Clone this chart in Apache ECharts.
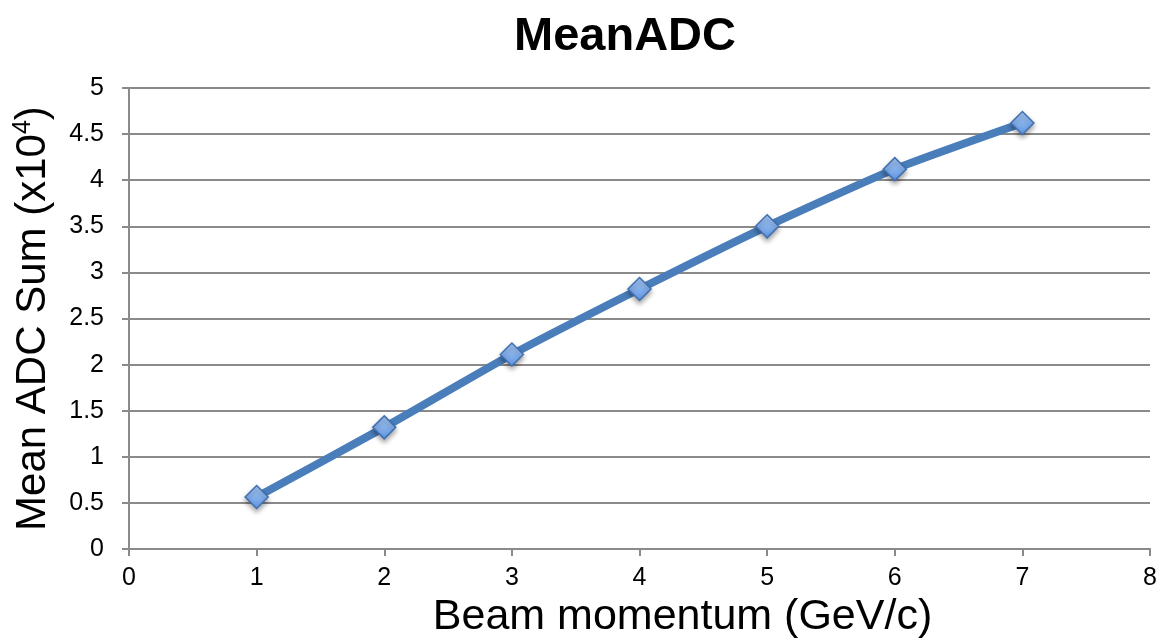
<!DOCTYPE html>
<html>
<head>
<meta charset="utf-8">
<script src="https://cdn.jsdelivr.net/npm/echarts@6/dist/echarts.min.js"></script>
<style>
  html, body { margin: 0; padding: 0; background: #fff; }
  #chart { width: 1160px; height: 644px; }
</style>
</head>
<body>
<div id="chart"></div>
<script>
const chartTitle = "MeanADC";
const xAxisTitle = "Beam momentum (GeV/c)";
const yAxisTitle = "Mean ADC Sum (x10{sup|4})";
const momentum = [1, 2, 3, 4, 5, 6, 7];
const meanAdcSum = [0.565, 1.32, 2.11, 2.82, 3.50, 4.12, 4.62];

const points = momentum.map((x, i) => [x, meanAdcSum[i]]);
const gray = '#8a8a8a';
const font = 'Liberation Sans, Arial, sans-serif';

const chart = echarts.init(document.getElementById('chart'), null, { renderer: 'canvas' });
chart.setOption({
  animation: false,
  backgroundColor: '#ffffff',
  title: {
    text: chartTitle,
    left: 620, top: 9,
    textAlign: 'center',
    textStyle: { fontFamily: font, fontWeight: 'bold', fontSize: 47, color: '#000' }
  },
  grid: { left: 129, right: 9, top: 88, bottom: 93, containLabel: false },
  xAxis: {
    type: 'value', min: 0, max: 8, interval: 1,
    name: xAxisTitle, nameLocation: 'middle', nameGap: 44,
    nameTextStyle: { fontFamily: font, fontSize: 43, color: '#000', padding: [0, 0, 0, 86] },
    axisLine: { show: true, onZero: false, lineStyle: { color: gray, width: 2 } },
    axisTick: { show: true, inside: false, length: 7, lineStyle: { color: gray, width: 2 } },
    axisLabel: { margin: 17, fontFamily: font, fontSize: 25, color: '#000' },
    splitLine: { show: false }
  },
  yAxis: {
    type: 'value', min: 0, max: 5, interval: 0.5,
    name: yAxisTitle, nameLocation: 'middle', nameGap: 73, nameRotate: 90,
    nameTextStyle: {
      fontFamily: font, fontSize: 42, color: '#000',
      rich: { sup: { fontFamily: font, fontSize: 25, color: '#000', padding: [0, 0, 20, 0] } }
    },
    axisLine: { show: true, onZero: false, lineStyle: { color: gray, width: 2 } },
    axisTick: { show: true, inside: false, length: 7, lineStyle: { color: gray, width: 2 } },
    axisLabel: { margin: 25, fontFamily: font, fontSize: 25, color: '#000' },
    splitLine: { show: true, lineStyle: { color: gray, width: 2 } }
  },
  series: [{
    type: 'line',
    data: points,
    smooth: 0.2,
    lineStyle: { color: '#4a7ebb', width: 8, cap: 'round' },
    symbol: 'diamond',
    symbolSize: 23,
    itemStyle: {
      color: new echarts.graphic.LinearGradient(0, 0, 0, 1, [
        { offset: 0, color: '#a9cbf6' },
        { offset: 1, color: '#6196e2' }
      ]),
      borderColor: '#3f70b3',
      borderWidth: 1.5,
      shadowBlur: 5,
      shadowColor: 'rgba(0,0,0,0.35)',
      shadowOffsetY: 3
    },
    z: 3
  }]
});
</script>
</body>
</html>
